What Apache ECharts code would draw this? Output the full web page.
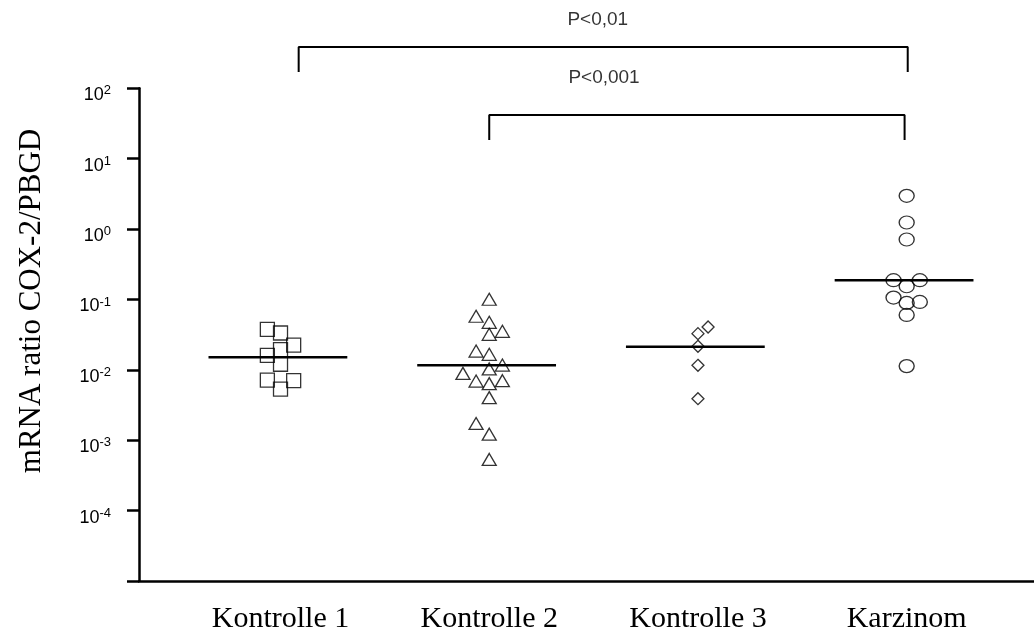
<!DOCTYPE html>
<html>
<head>
<meta charset="utf-8">
<script src="https://cdn.jsdelivr.net/npm/echarts@6/dist/echarts.min.js"></script>
<style>
html, body { margin: 0; padding: 0; background: #fff; }
#main { width: 1034px; height: 635px; }
</style>
</head>
<body>
<div id="main"></div>
<script>
// groups on the x axis
var groups = ['Kontrolle 1', 'Kontrolle 2', 'Kontrolle 3', 'Karzinom'];

// mRNA ratio values per group, with the jitter column of each point
var kontrolle1 = [0.0377, 0.0334, 0.0225, 0.0194, 0.0161, 0.0120, 0.00716, 0.00702, 0.00533];
var kontrolle1Col = [-1, 0, 1, 0, -1, 0, -1, 1, 0];

var kontrolle2 = [0.1007, 0.0577, 0.0474, 0.0320, 0.0353, 0.0185, 0.0166, 0.0117, 0.0103,
    0.00891, 0.00693, 0.00637, 0.00702, 0.00403, 0.00173, 0.00122, 0.000533];
var kontrolle2Col = [0, -1, 0, 0, 1, -1, 0, 1, 0, -2, -1, 0, 1, 0, -1, 0, 0];

var kontrolle3 = [0.0406, 0.0327, 0.0216, 0.0116, 0.00389];
var kontrolle3Col = [0.77, 0, 0, 0, 0];

var karzinom = [2.97, 1.24, 0.711, 0.1876, 0.1876, 0.154, 0.1064, 0.0892, 0.0921, 0.0602, 0.0113];
var karzinomCol = [0, 0, 0, -1, 1, 0, -1, 0, 1, 0, 0];

var medians = [0.0151, 0.0116, 0.0212, 0.188];

// significance brackets
var bracketText = ['P<0,01', 'P<0,001'];
var bracketFrom = [1.087, 2.0];
var bracketTo = [4.005, 3.99];

var myChart = echarts.init(document.getElementById('main'));

var colStep = 0.063;
var values = [kontrolle1, kontrolle2, kontrolle3, karzinom];
var cols = [kontrolle1Col, kontrolle2Col, kontrolle3Col, karzinomCol];
var symbols = ['rect', 'triangle', 'diamond', 'circle'];
var sizes = [14, [14, 12], 12, [15, 13]];

var series = [];
values.forEach(function (vals, g) {
    series.push({
        name: groups[g],
        type: 'scatter',
        symbol: symbols[g],
        symbolSize: sizes[g],
        itemStyle: {color: 'rgba(255,255,255,0)', borderColor: '#000', borderWidth: 1.3},
        emphasis: {disabled: true},
        data: vals.map(function (v, i) {
            return [g + 1 + cols[g][i] * colStep, v];
        })
    });
    series.push({
        type: 'line',
        symbol: 'none',
        lineStyle: {color: '#000', width: 2.5},
        data: [[g + 1 - 0.345, medians[g]], [g + 1 + 0.32, medians[g]]]
    });
});

// bracket levels (top line, leg end) and text anchor, in axis units
var bracketLevels = [[386, 170], [41.7, 18.4]];
var textPos = [[2.52, 934], [2.55, 140]];
bracketText.forEach(function (t, i) {
    var lv = bracketLevels[i];
    series.push({
        type: 'line',
        symbol: 'none',
        clip: false,
        lineStyle: {color: '#000', width: 2},
        data: [[bracketFrom[i], lv[1]], [bracketFrom[i], lv[0]], [bracketTo[i], lv[0]], [bracketTo[i], lv[1]]]
    });
    series.push({
        type: 'scatter',
        symbolSize: 0,
        clip: false,
        itemStyle: {color: 'rgba(0,0,0,0)'},
        label: {
            show: true, position: 'inside', formatter: t,
            color: '#000', fontFamily: 'Liberation Sans', fontSize: 19
        },
        data: [textPos[i]]
    });
});

option = {
    animation: false,
    grid: {left: 139, right: 0, top: 88.3, bottom: 54, outerBoundsMode: 'none'},
    xAxis: {
        type: 'value',
        min: 0.322,
        max: 4.61,
        splitLine: {show: false},
        axisLine: {lineStyle: {color: '#000', width: 2.5}},
        axisTick: {show: false},
        axisLabel: {
            customValues: [1, 2, 3, 4],
            formatter: function (v) { return groups[Math.round(v) - 1]; },
            color: '#000',
            fontFamily: 'Liberation Serif',
            fontSize: 30,
            margin: 23
        }
    },
    yAxis: {
        type: 'log',
        logBase: 10,
        min: 1e-5,
        max: 100,
        splitLine: {show: false},
        axisLine: {show: true, lineStyle: {color: '#000', width: 2.5}},
        axisTick: {show: true, length: 12, lineStyle: {color: '#000', width: 2.5}},
        axisLabel: {
            margin: 28,
            padding: [12, 0, 0, 0],
            formatter: function (v) {
                var e = Math.round(Math.log(v) / Math.LN10);
                if (e === -5) return '';
                return '{b|10}{s|' + e + '}';
            },
            rich: {
                b: {fontFamily: 'Liberation Sans', fontSize: 18, color: '#000', verticalAlign: 'bottom', lineHeight: 20},
                s: {fontFamily: 'Liberation Sans', fontSize: 13, color: '#000', verticalAlign: 'top', lineHeight: 20}
            }
        }
    },
    graphic: [{
        type: 'text',
        x: 32,
        y: 301,
        rotation: Math.PI / 2,
        style: {
            text: 'mRNA ratio COX-2/PBGD',
            fontFamily: 'Liberation Serif',
            fontSize: 31,
            fill: '#000',
            align: 'center',
            verticalAlign: 'middle'
        }
    }],
    series: series
};
myChart.setOption(option);
</script>
</body>
</html>
